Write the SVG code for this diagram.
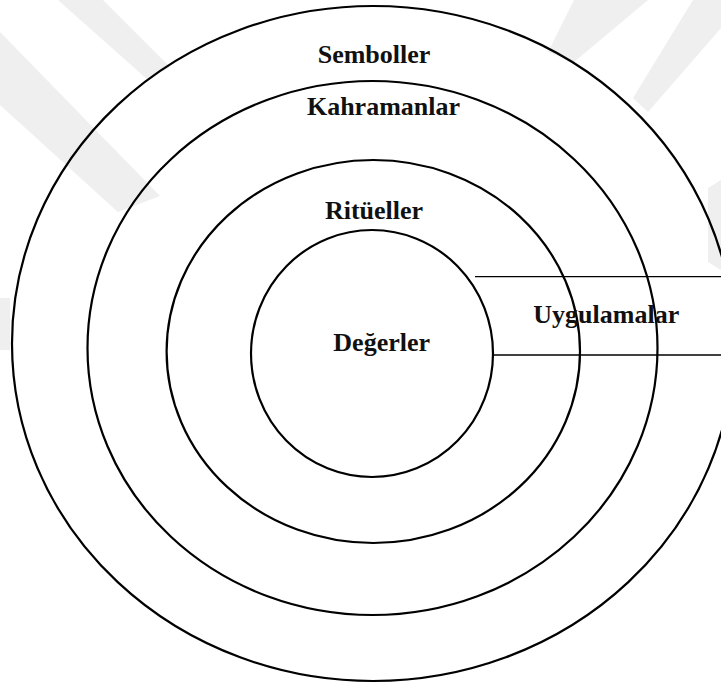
<svg xmlns="http://www.w3.org/2000/svg" width="721" height="686" viewBox="0 0 721 686">
  <style>
    .ring { fill: none; stroke: #000; stroke-width: 2.2; }
    .lbl { font-family: "Liberation Serif", "Times New Roman", serif; font-weight: bold; font-size: 26px; fill: #111; }
    .rule { stroke: #000; stroke-width: 1.3; fill: none; }
    .wm { fill: #efefef; }
  </style>
  <rect x="0" y="0" width="721" height="686" fill="#ffffff"/>
  <g id="watermark">
    <polygon class="wm" points="58,0 103,0 170,67 148,80"/>
    <polygon class="wm" points="0,32 0,105 118,212 160,196"/>
    <polygon class="wm" points="0,298 10,298 10,350 0,350"/>
    <polygon class="wm" points="574,0 648,0 574,62 548,52"/>
    <polygon class="wm" points="693,0 721,0 721,28 648,112 633,98"/>
    <polygon class="wm" points="721,180 721,270 708,262 708,188"/>
  </g>
  <g id="semboller">
    <ellipse class="ring" cx="373" cy="343.5" rx="361" ry="337.5"/>
    <text class="lbl" x="374" y="63" text-anchor="middle">Semboller</text>
  </g>
  <g id="kahramanlar">
    <ellipse class="ring" cx="372.5" cy="348" rx="285" ry="267"/>
    <text class="lbl" x="383.5" y="115" text-anchor="middle">Kahramanlar</text>
  </g>
  <g id="ritueller">
    <ellipse class="ring" cx="373.3" cy="351.5" rx="206.7" ry="191.5"/>
    <text class="lbl" x="374" y="219" text-anchor="middle">Ritüeller</text>
  </g>
  <g id="degerler">
    <ellipse class="ring" cx="372" cy="353.5" rx="121" ry="123.5"/>
    <text class="lbl" x="381.7" y="351" text-anchor="middle">Değerler</text>
  </g>
  <g id="connectors">
    <line class="rule" x1="475" y1="276.7" x2="721" y2="276.7"/>
    <line class="rule" x1="494" y1="355" x2="721" y2="355"/>
  </g>
  <g id="uygulamalar">
    <text class="lbl" x="533.3" y="323.3">Uygulamalar</text>
  </g>
</svg>
